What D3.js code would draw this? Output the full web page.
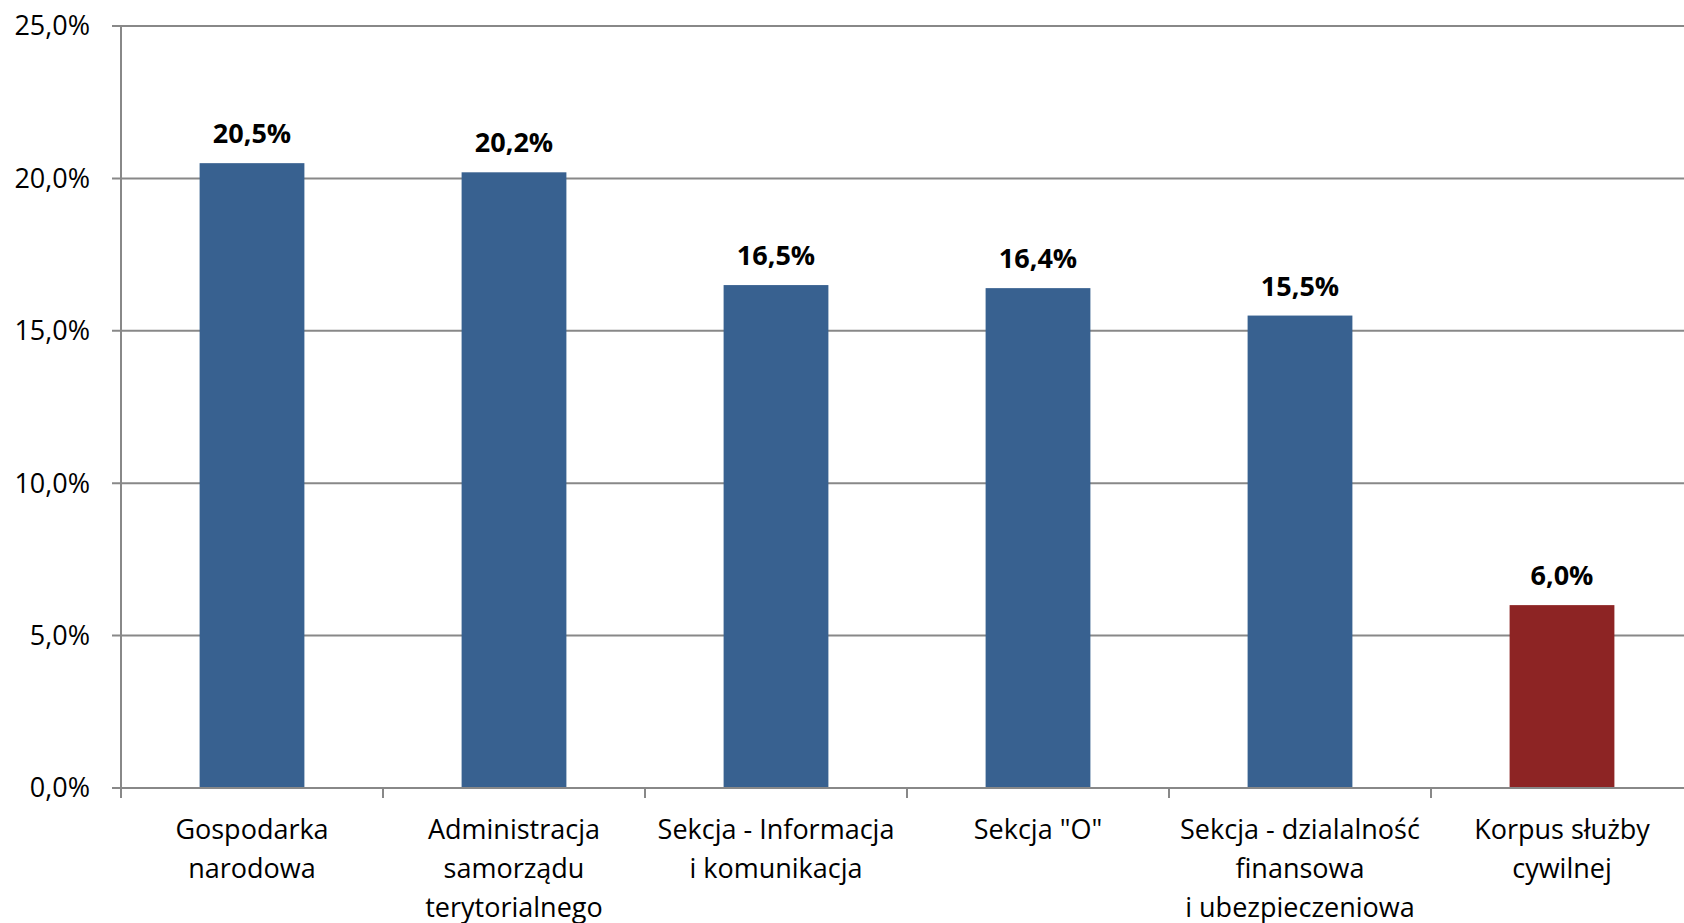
<!DOCTYPE html>
<html>
<head>
<meta charset="utf-8">
<script src="https://cdn.jsdelivr.net/npm/d3@7"></script>
<style>
  html, body { margin: 0; padding: 0; background: #fff; overflow: hidden; }
  svg { display: block; }
</style>
</head>
<body>
<svg id="chart" width="1684" height="923"></svg>
<script>
const categories = [
  ["Gospodarka", "narodowa"],
  ["Administracja", "samorządu", "terytorialnego"],
  ["Sekcja - Informacja", "i komunikacja"],
  ["Sekcja \"O\""],
  ["Sekcja - dzialalność", "finansowa", "i ubezpieczeniowa"],
  ["Korpus służby", "cywilnej"]
];
const values = [20.5, 20.2, 16.5, 16.4, 15.5, 6.0];
const valueLabels = ["20,5%", "20,2%", "16,5%", "16,4%", "15,5%", "6,0%"];
const barColors = ["#386190", "#386190", "#386190", "#386190", "#386190", "#8d2424"];
const yTicks = [0, 5, 10, 15, 20, 25];
const yTickLabels = ["0,0%", "5,0%", "10,0%", "15,0%", "20,0%", "25,0%"];

const svg = d3.select("#chart");
const plotLeft = 121, plotRight = 1693, plotTop = 26, plotBottom = 788;
const font = "'Open Sans', sans-serif";

const x = d3.scaleBand().domain(d3.range(categories.length))
  .range([plotLeft, plotRight]).paddingInner(0.6).paddingOuter(0.3);
const y = d3.scaleLinear().domain([0, 25]).range([plotBottom, plotTop]);

// gridlines
svg.append("g").selectAll("line").data(yTicks.filter(d => d > 0)).join("line")
  .attr("x1", plotLeft - 9).attr("x2", 1684)
  .attr("y1", d => y(d)).attr("y2", d => y(d))
  .attr("stroke", "#888").attr("stroke-width", 2);

// bars
svg.append("g").selectAll("rect").data(values).join("rect")
  .attr("x", (d, i) => x(i)).attr("width", x.bandwidth())
  .attr("y", d => y(d)).attr("height", d => y(0) - y(d))
  .attr("fill", (d, i) => barColors[i]);

// x axis baseline
svg.append("line").attr("x1", plotLeft - 9).attr("x2", 1684)
  .attr("y1", y(0)).attr("y2", y(0)).attr("stroke", "#888").attr("stroke-width", 2);
// y axis line
svg.append("line").attr("x1", plotLeft).attr("x2", plotLeft)
  .attr("y1", plotTop).attr("y2", y(0) + 10).attr("stroke", "#888").attr("stroke-width", 2);

// category ticks
const step = x.step();
svg.append("g").selectAll("line").data(d3.range(1, categories.length + 1)).join("line")
  .attr("x1", d => plotLeft + d * step).attr("x2", d => plotLeft + d * step)
  .attr("y1", y(0)).attr("y2", y(0) + 10)
  .attr("stroke", "#888").attr("stroke-width", 2);

// y tick labels
svg.append("g").selectAll("text").data(yTicks).join("text")
  .attr("x", 90).attr("y", d => y(d))
  .attr("dy", "0.35em")
  .attr("text-anchor", "end")
  .attr("font-family", font).attr("font-size", 27).attr("fill", "#000")
  .text((d, i) => yTickLabels[i]);

// value labels
svg.append("g").selectAll("text").data(values).join("text")
  .attr("x", (d, i) => x(i) + x.bandwidth() / 2)
  .attr("y", d => y(d) - 20)
  .attr("text-anchor", "middle")
  .attr("font-family", font).attr("font-size", 27).attr("font-weight", "bold").attr("fill", "#000")
  .text((d, i) => valueLabels[i]);

// category labels
const catG = svg.append("g").selectAll("text").data(categories).join("text")
  .attr("x", (d, i) => x(i) + x.bandwidth() / 2)
  .attr("y", y(0) + 51)
  .attr("text-anchor", "middle")
  .attr("font-family", font).attr("font-size", 27).attr("fill", "#000");
catG.selectAll("tspan").data(d => d).join("tspan")
  .attr("x", function() { return d3.select(this.parentNode).attr("x"); })
  .attr("dy", (d, i) => i === 0 ? 0 : 39)
  .text(d => d);
</script>
</body>
</html>
